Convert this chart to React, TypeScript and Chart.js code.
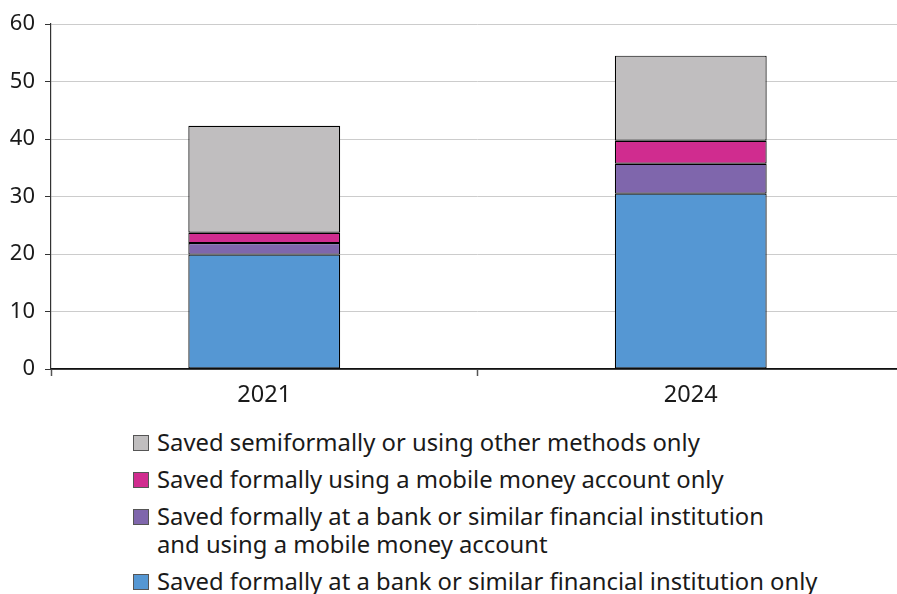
import React, { useEffect, useRef } from "react";
import { Chart, registerables } from "chart.js";

Chart.register(...registerables);

const categories = ["2021", "2024"];
const bankOnly = [19.9, 30.5];
const bankAndMobile = [2.0, 5.2];
const mobileOnly = [1.8, 4.0];
const semiformal = [18.6, 14.8];
const yTicks = [0, 10, 20, 30, 40, 50, 60];

const seriesLabels = [
  "Saved formally at a bank or similar financial institution only",
  "Saved formally at a bank or similar financial institution\nand using a mobile money account",
  "Saved formally using a mobile money account only",
  "Saved semiformally or using other methods only",
];
const seriesColors = ["#5597D3", "#7F66AC", "#D02C8F", "#C0BEBF"];

const FONT = "'Noto Sans', 'Open Sans', sans-serif";

const CANVAS_W = 904;
const CANVAS_H = 420;
const PLOT_BOTTOM = 369;
const PLOT_LEFT = 51;

export default function App() {
  const ref = useRef<HTMLCanvasElement | null>(null);

  useEffect(() => {
    const canvas = ref.current;
    if (!canvas) return;
    const data = [bankOnly, bankAndMobile, mobileOnly, semiformal];
    const chart = new Chart(canvas, {
      type: "bar",
      data: {
        labels: categories,
        datasets: data.map((d, i) => ({
          label: seriesLabels[i],
          data: d,
          backgroundColor: seriesColors[i],
          borderColor: "#000000",
          borderWidth: 1.2,
          borderSkipped: false,
          barPercentage: 0.356,
          categoryPercentage: 1,
        })),
      },
      options: {
        animation: false,
        responsive: false,
        maintainAspectRatio: false,
        layout: { padding: { top: 24, left: 0, right: 0, bottom: 0 } },
        plugins: {
          legend: { display: false },
          tooltip: { enabled: false },
        },
        scales: {
          x: {
            stacked: true,
            offset: true,
            afterFit: (scale: any) => {
              scale.height = CANVAS_H - PLOT_BOTTOM;
            },
            border: { display: true, color: "#111111", width: 1.8 },
            grid: {
              display: true,
              offset: true,
              drawOnChartArea: false,
              drawTicks: true,
              tickLength: 7,
              tickColor: "#555555",
              tickWidth: 1.5,
            },
            ticks: {
              color: "#1a1a1a",
              font: { family: FONT, size: 23.5 },
              padding: 5,
            },
          },
          y: {
            stacked: true,
            min: 0,
            max: 60,
            afterFit: (scale: any) => {
              scale.width = PLOT_LEFT;
            },
            afterBuildTicks: (axis: any) => {
              axis.ticks = yTicks.map((v) => ({ value: v }));
            },
            border: { display: true, color: "#333333", width: 1.2 },
            grid: {
              color: "#cccccc",
              lineWidth: 1,
              drawTicks: true,
              tickLength: 6,
              tickColor: "#333333",
            },
            ticks: {
              color: "#1a1a1a",
              font: { family: FONT, size: 22 },
              padding: 10,
            },
          },
        },
      },
    });
    return () => chart.destroy();
  }, []);

  const legendOrder = [3, 2, 1, 0];

  return (
    <div
      style={{
        position: "fixed",
        left: 0,
        top: 0,
        width: 897,
        height: 594,
        overflow: "hidden",
        background: "#ffffff",
      }}
    >
      <canvas
        ref={ref}
        width={CANVAS_W}
        height={CANVAS_H}
        style={{ display: "block", width: CANVAS_W, height: CANVAS_H }}
      />
      <div
        style={{
          position: "absolute",
          left: 133,
          top: 428,
          fontFamily: FONT,
          fontSize: 23.8,
          color: "#1a1a1a",
          lineHeight: "28px",
        }}
      >
        {legendOrder.map((i) => (
          <div key={i} style={{ display: "flex", alignItems: "flex-start", marginBottom: 9 }}>
            <span
              style={{
                display: "inline-block",
                width: 16,
                height: 16,
                boxSizing: "border-box",
                background: seriesColors[i],
                border: "1px solid #555555",
                marginTop: 7,
                marginRight: 8,
                flex: "none",
              }}
            />
            <span style={{ whiteSpace: "pre" }}>{seriesLabels[i]}</span>
          </div>
        ))}
      </div>
    </div>
  );
}
